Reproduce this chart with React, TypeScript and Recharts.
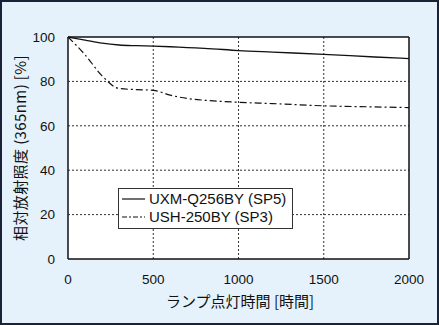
import React from "react";
import { LineChart, Line, XAxis, YAxis, CartesianGrid } from "recharts";

const hours = [0, 100, 200, 300, 400, 500, 600, 700, 800, 1000, 1200, 1500, 1800, 2000];
const uxm = [100, 98.6, 97.2, 96.4, 96.1, 95.9, 95.6, 95.2, 94.9, 93.9, 93.2, 92.2, 91.0, 90.3];
const ush = [100, 92, 82.5, 76.8, 76.3, 76.0, 73.8, 72.3, 71.5, 70.6, 70.0, 69.0, 68.5, 68.2];

const seriesNames = ["UXM-Q256BY (SP5)", "USH-250BY (SP3)"];
const xTicks = [0, 500, 1000, 1500, 2000];
const yTicks = [0, 20, 40, 60, 80, 100];
const xMinorTicks = [0, 100, 200, 300, 400, 500, 600, 700, 800, 900, 1000, 1100, 1200, 1300, 1400, 1500, 1600, 1700, 1800, 1900, 2000];
const yMinorTicks = [0, 10, 20, 30, 40, 50, 60, 70, 80, 90, 100];

const xTitle = "ランプ点灯時間 [時間]";
const yTitle = "相対放射照度 (365nm) [%]";

const data = hours.map((h, i) => ({ h, uxm: uxm[i], ush: ush[i] }));

const DASH = "7 3 2 3";
const tickStyle = { fontFamily: "'Liberation Sans', Arial, sans-serif", fontSize: 13.5, fill: "#111" };

const LegendBox = () => (
  <div
    style={{
      position: "absolute",
      left: 116,
      top: 186,
      border: "1px solid #333",
      background: "#fff",
      width: 175,
      height: 41,
      boxSizing: "border-box",
      fontFamily: "'Liberation Sans', Arial, sans-serif",
      fontSize: 15,
      color: "#111",
      paddingTop: 1,
    }}
  >
    {seriesNames.map((n, i) => (
      <div key={n} style={{ display: "flex", alignItems: "center", height: 18, lineHeight: "18px" }}>
        <svg width={30} height={10} style={{ flex: "none" }}>
          <line x1={3} x2={26} y1={5} y2={5} stroke="#111" strokeWidth={1.2} strokeDasharray={i === 0 ? undefined : "5 2 2 2"} />
        </svg>
        <span>{n}</span>
      </div>
    ))}
  </div>
);

export default function App() {
  return (
    <div
      style={{
        position: "absolute",
        left: 0,
        top: 0,
        width: 439,
        height: 325,
        background: "#e5f1fb",
        border: "2px solid #1a2238",
        boxSizing: "border-box",
      }}
    >
      <div style={{ position: "absolute", left: -2, top: -2 }}>
        <LineChart width={439} height={325} data={data} margin={{ top: 37, right: 30, bottom: 0, left: 0 }}>
          <CartesianGrid
            fill="#fff"
            stroke="#333"
            strokeDasharray="2 2"
            horizontalValues={[20, 40, 60, 80]}
            verticalValues={[500, 1000, 1500]}
          />
          <XAxis
            dataKey="h"
            type="number"
            domain={[0, 2000]}
            ticks={xTicks}
            height={66}
            tickSize={0}
            tickMargin={15}
            tick={tickStyle}
            axisLine={{ stroke: "#111", strokeWidth: 1.5 }}
            interval={0}
          />
          <XAxis
            xAxisId="minorB"
            dataKey="h"
            type="number"
            domain={[0, 2000]}
            ticks={xMinorTicks}
            mirror
            tick={false}
            tickSize={4}
            axisLine={false}
            tickLine={{ stroke: "#111" }}
            interval={0}
          />
          <XAxis
            xAxisId="top"
            orientation="top"
            dataKey="h"
            type="number"
            domain={[0, 2000]}
            ticks={xMinorTicks}
            mirror
            tick={false}
            tickSize={3}
            axisLine={{ stroke: "#111", strokeWidth: 1.5 }}
            tickLine={{ stroke: "#111" }}
            interval={0}
          />
          <YAxis
            type="number"
            domain={[0, 100]}
            ticks={yTicks}
            width={68}
            tickSize={0}
            tickMargin={13}
            tick={tickStyle}
            axisLine={{ stroke: "#111", strokeWidth: 1.5 }}
            interval={0}
          />
          <YAxis
            yAxisId="minorL"
            type="number"
            domain={[0, 100]}
            ticks={yMinorTicks}
            mirror
            tick={false}
            tickSize={4}
            axisLine={false}
            tickLine={{ stroke: "#111" }}
            interval={0}
          />
          <YAxis
            yAxisId="right"
            orientation="right"
            type="number"
            domain={[0, 100]}
            ticks={yMinorTicks}
            mirror
            tick={false}
            tickSize={4}
            axisLine={{ stroke: "#111", strokeWidth: 1.5 }}
            tickLine={{ stroke: "#111" }}
            interval={0}
          />
          <Line
            dataKey="uxm"
            name={seriesNames[0]}
            stroke="#111"
            strokeWidth={1.3}
            dot={false}
            type="monotone"
            isAnimationActive={false}
          />
          <Line
            dataKey="ush"
            name={seriesNames[1]}
            stroke="#111"
            strokeWidth={1.2}
            strokeDasharray={DASH}
            dot={false}
            type="monotone"
            isAnimationActive={false}
          />
        </LineChart>
      </div>
      <LegendBox />
      <div
        style={{
          position: "absolute",
          left: 0,
          width: 476,
          top: 289,
          textAlign: "center",
          fontFamily: "'Noto Sans CJK JP', sans-serif",
          fontSize: 15,
          color: "#111",
          lineHeight: "20px",
          whiteSpace: "nowrap",
        }}
      >
        {xTitle}
      </div>
      <div
        style={{
          position: "absolute",
          left: 18,
          top: 146,
          width: 0,
          height: 0,
        }}
      >
        <div
          style={{
            position: "absolute",
            transform: "translate(-50%, -50%) rotate(-90deg)",
            fontFamily: "'Noto Sans CJK JP', sans-serif",
            fontSize: 15,
            letterSpacing: 0.4,
            color: "#111",
            whiteSpace: "nowrap",
            lineHeight: "20px",
          }}
        >
          {yTitle}
        </div>
      </div>
    </div>
  );
}
